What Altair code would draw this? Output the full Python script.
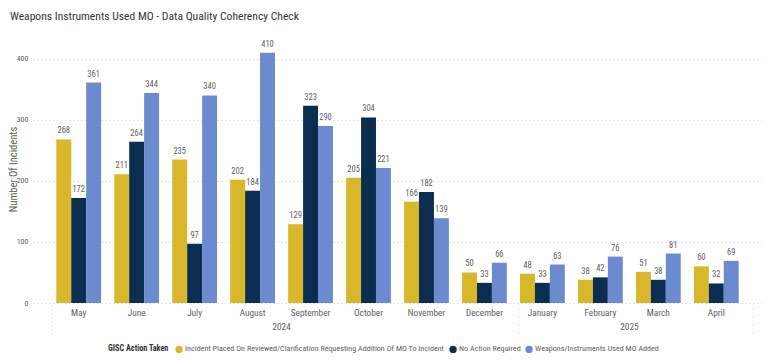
import altair as alt
import pandas as pd

months = ["May", "June", "July", "August", "September", "October", "November",
          "December", "January", "February", "March", "April"]
years = ["2024"] * 8 + ["2025"] * 4
series = ["Incident Placed On Reviewed/Clarification Requesting Addition Of MO To Incident",
          "No Action Required",
          "Weapons/Instruments Used MO Added"]
incident_placed = [268, 211, 235, 202, 129, 205, 166, 50, 48, 38, 51, 60]
no_action = [172, 264, 97, 184, 323, 304, 182, 33, 33, 42, 38, 32]
mo_added = [361, 344, 340, 410, 290, 221, 139, 66, 63, 76, 81, 69]
colors = ["#D8B72A", "#0B2D4F", "#6C8AD0"]

year_labels = ["2024", "2025"]
year_anchor = ["August", "February"]

rows = []
for i, m in enumerate(months):
    for s, vals in zip(series, [incident_placed, no_action, mo_added]):
        rows.append({"month": m, "year": years[i], "series": s, "value": vals[i]})
df = pd.DataFrame(rows)
ydf = pd.DataFrame({"year": year_labels, "month": year_anchor})

FONT = "Liberation Sans Narrow, Roboto Condensed, DejaVu Sans Condensed, sans-serif"
GRAY = "#605E5C"

W, H = 729, 268

xscale = alt.Scale(domain=months, paddingInner=0.227, paddingOuter=0.402)

base = alt.Chart(df)

bars = base.mark_bar().encode(
    x=alt.X("month:N", scale=xscale, sort=months,
            axis=alt.Axis(title=None, labelAngle=0, ticks=False, domain=False,
                          labelFont=FONT, labelFontSize=9.3, labelColor=GRAY,
                          labelPadding=5, grid=False)),
    xOffset=alt.XOffset("series:N", sort=series, scale=alt.Scale(paddingInner=0, paddingOuter=0)),
    y=alt.Y("value:Q", scale=alt.Scale(domain=[0, 439], nice=False),
            axis=alt.Axis(values=[0, 100, 200, 300, 400], title="Number Of Incidents",
                          titleFont=FONT, titleFontSize=10.5, titleFontWeight="normal",
                          titleColor=GRAY, titleX=-15,
                          labelFont=FONT, labelFontSize=8, labelColor=GRAY,
                          labelPadding=5, ticks=False, domain=False,
                          grid=True, gridColor="#C8C8C8", gridDash=[1, 3], gridWidth=1)),
    color=alt.Color("series:N", sort=series,
                    scale=alt.Scale(domain=series, range=colors),
                    legend=alt.Legend(title="GISC Action Taken", orient="none",
                                      legendX=75, legendY=310, direction="horizontal",
                                      titleOrient="left", titleFont=FONT, titleFontSize=8.2,
                                      titleFontWeight="bold", titleColor="#333333",
                                      labelFont=FONT, labelFontSize=8.1, labelColor=GRAY,
                                      symbolType="circle", symbolSize=55, symbolOpacity=1,
                                      symbolStrokeWidth=0, columnPadding=4,
                                      labelOffset=2, labelLimit=400, titlePadding=6)),
)

labels = base.mark_text(baseline="bottom", dy=-4, font=FONT, fontSize=8.5, color=GRAY).encode(
    x=alt.X("month:N", scale=xscale, sort=months),
    xOffset=alt.XOffset("series:N", sort=series),
    y=alt.Y("value:Q"),
    text=alt.Text("value:Q"),
)

yrs = alt.Chart(ydf).mark_text(font=FONT, fontSize=9.3, color=GRAY, dx=6.6, baseline="middle").encode(
    x=alt.X("month:N", scale=xscale, sort=months, bandPosition=1),
    y=alt.value(H + 24),
    text="year:N",
)

def sep(px):
    return alt.Chart(ydf.head(1)).mark_rule(color="#D0D0D0", strokeDash=[1, 3]).encode(
        x=alt.value(px), y=alt.value(H + 2), y2=alt.value(H + 32))

title = alt.Chart(ydf.head(1)).mark_text(align="left", baseline="middle", font=FONT,
                                         fontSize=11.6, color="#333333").encode(
    x=alt.value(-23), y=alt.value(-18),
    text=alt.value("Weapons Instruments Used MO - Data Quality Coherency Check"))

chart = alt.layer(bars, labels, yrs, sep(19), sep(486), sep(720), title).properties(
    width=W, height=H,
    autosize=alt.AutoSizeParams(type="none"),
    padding={"left": 25, "top": 27, "right": 0, "bottom": 50},
).configure_view(stroke=None)

chart.save("out.html", embed_options={"renderer": "svg", "actions": False})
